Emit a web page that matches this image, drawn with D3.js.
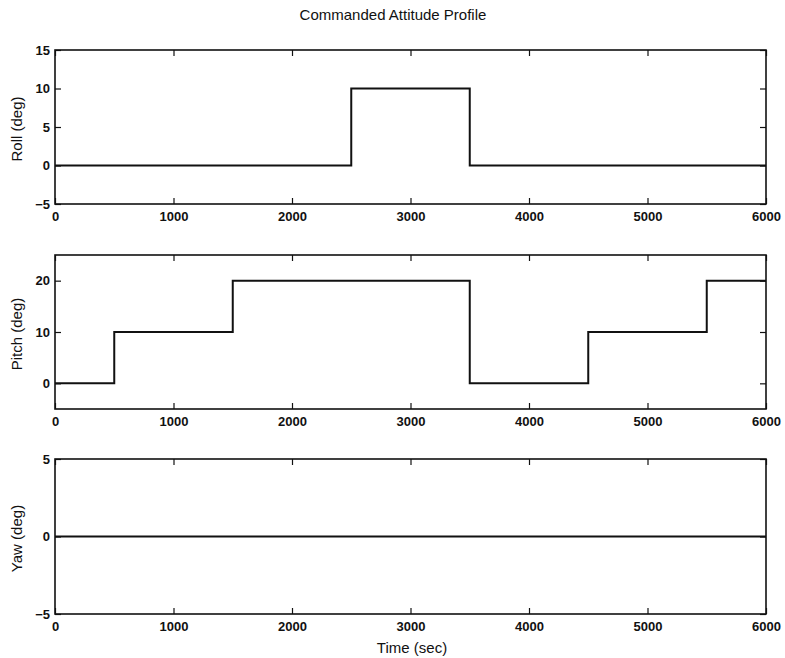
<!DOCTYPE html>
<html>
<head>
<meta charset="utf-8">
<script src="https://cdn.jsdelivr.net/npm/d3@7"></script>
<style>
  body { margin: 0; background: #fff; }
  text { font-family: "Liberation Sans", Arial, sans-serif; fill: #111; }
</style>
</head>
<body>
<script>
// commanded attitude profile (step commands)
const timeTicks = [0, 1000, 2000, 3000, 4000, 5000, 6000];

const rollTimes = [0, 2500, 3500, 6000];
const rollValues = [0, 10, 0, 0];

const pitchTimes = [0, 500, 1500, 3500, 4500, 5500, 6000];
const pitchValues = [0, 10, 20, 0, 10, 20, 20];

const yawTimes = [0, 6000];
const yawValues = [0, 0];

const panels = [
    { label: "Roll (deg)", times: rollTimes, values: rollValues, domain: [-5, 15], ticks: [-5, 0, 5, 10, 15], top: 50, bottom: 204 },
    { label: "Pitch (deg)", times: pitchTimes, values: pitchValues, domain: [-5, 25], ticks: [0, 10, 20], top: 255, bottom: 409 },
    { label: "Yaw (deg)", times: yawTimes, values: yawValues, domain: [-5, 5], ticks: [-5, 0, 5], top: 459, bottom: 614 }
];

const width = 785, height = 658;
const left = 55, right = 766;

const svg = d3.select("body").append("svg")
    .attr("width", width)
    .attr("height", height);

const x = d3.scaleLinear().domain([0, 6000]).range([left, right]);

// 제목
svg.append("text")
    .attr("x", 393)
    .attr("y", 20)
    .attr("text-anchor", "middle")
    .style("font-size", "15px")
    .text("Commanded Attitude Profile");

panels.forEach(function(p) {
    const y = d3.scaleLinear().domain(p.domain).range([p.bottom, p.top]);
    const g = svg.append("g");

    // bottom axis with labels, ticks pointing in
    g.append("g")
        .attr("transform", "translate(0," + p.bottom + ")")
        .call(d3.axisBottom(x).tickValues(timeTicks).tickSizeInner(-6).tickSizeOuter(0).tickPadding(8).tickFormat(d3.format("d")))
        .call(ax => ax.select(".domain").remove());
    g.append("g")
        .attr("transform", "translate(0," + p.top + ")")
        .call(d3.axisTop(x).tickValues(timeTicks).tickSizeInner(-6).tickSizeOuter(0).tickFormat(""))
        .call(ax => ax.select(".domain").remove());
    g.append("g")
        .attr("transform", "translate(" + left + ",0)")
        .call(d3.axisLeft(y).tickValues(p.ticks).tickSizeInner(-6).tickSizeOuter(0).tickPadding(5).tickFormat(d => d < 0 ? "\u2212" + (-d) : d))
        .call(ax => ax.select(".domain").remove());
    g.append("g")
        .attr("transform", "translate(" + right + ",0)")
        .call(d3.axisRight(y).tickValues(p.ticks).tickSizeInner(-6).tickSizeOuter(0).tickFormat(""))
        .call(ax => ax.select(".domain").remove());

    g.selectAll(".tick line").attr("stroke", "#111").attr("stroke-width", 1.2);
    g.selectAll(".tick text")
        .style("font-size", "13px")
        .style("font-weight", "bold")
        .style("font-family", "'Liberation Sans', Arial, sans-serif")
        .attr("fill", "#111");

    // frame
    g.append("rect")
        .attr("x", left)
        .attr("y", p.top)
        .attr("width", right - left)
        .attr("height", p.bottom - p.top)
        .attr("fill", "none")
        .attr("stroke", "#111")
        .attr("stroke-width", 1.6);

    // step line
    const pts = p.times.map((t, i) => [t, p.values[i]]);
    const line = d3.line()
        .x(d => x(d[0]))
        .y(d => y(d[1]))
        .curve(d3.curveStepAfter);
    g.append("path")
        .datum(pts)
        .attr("d", line)
        .attr("fill", "none")
        .attr("stroke", "#111")
        .attr("stroke-width", 2);

    // y label
    g.append("text")
        .attr("transform", "translate(22," + ((p.top + p.bottom) / 2 + 2) + ") rotate(-90)")
        .attr("text-anchor", "middle")
        .style("font-size", "15px")
        .text(p.label);
});

svg.append("text")
    .attr("x", 412)
    .attr("y", 653)
    .attr("text-anchor", "middle")
    .style("font-size", "15px")
    .text("Time (sec)");
</script>
</body>
</html>
